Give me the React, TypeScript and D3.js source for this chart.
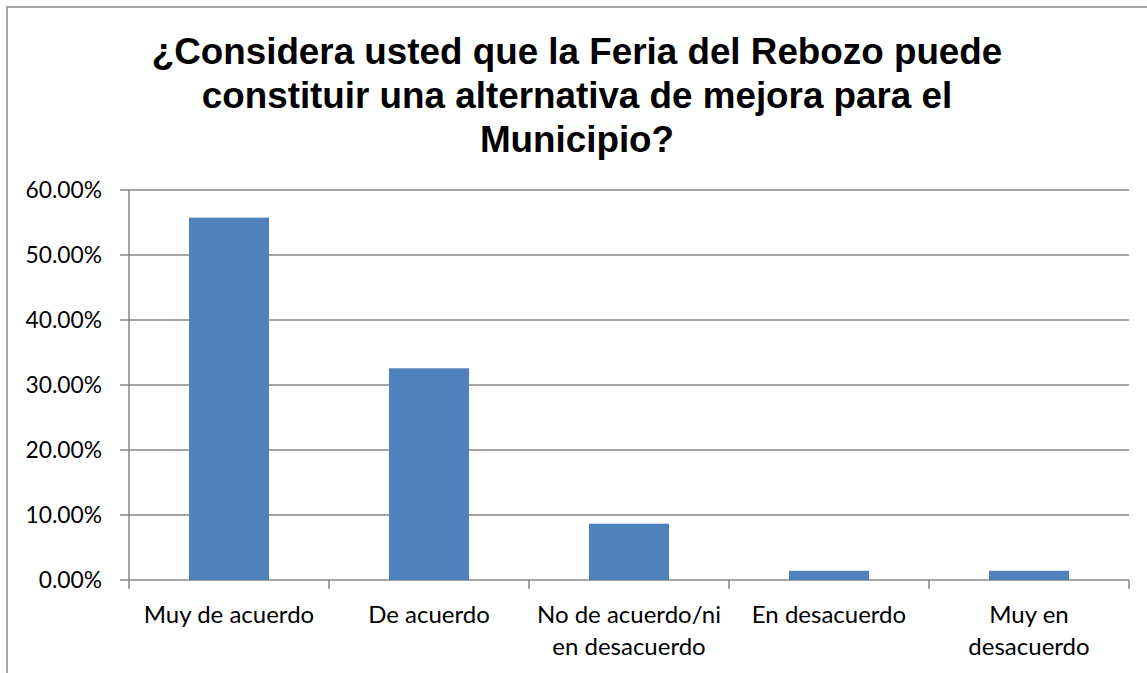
import React from 'react'
import * as d3 from 'd3'

const categories = [
  ['Muy de acuerdo'],
  ['De acuerdo'],
  ['No de acuerdo/ni', 'en desacuerdo'],
  ['En desacuerdo'],
  ['Muy en', 'desacuerdo'],
]
const values = [0.5575, 0.3257, 0.0866, 0.0142, 0.0142]
const yTicks = [0, 0.1, 0.2, 0.3, 0.4, 0.5, 0.6]
const titleLines = [
  '¿Considera usted que la Feria del Rebozo puede',
  'constituir una alternativa de mejora para el',
  'Municipio?',
]

const App: React.FC = () => {
  const width = 1147
  const height = 673
  const left = 129
  const right = 1129
  const top = 190
  const bottom = 580

  const xScale = d3.scaleBand<number>().domain(d3.range(categories.length)).range([left, right])
  const yScale = d3.scaleLinear().domain([0, 0.6]).range([bottom, top])
  const barWidth = xScale.bandwidth() * 0.4
  const fmt = d3.format('.2%')
  const grid = '#868686'

  return (
    <svg
      width={width}
      height={height}
      style={{ position: 'absolute', left: 0, top: 0, background: '#fff' }}
    >
      <rect x={7} y={7} width={width + 20} height={height + 20} fill="#fff" stroke="#898989" strokeWidth={1.5} />
      {titleLines.map((line, i) => (
        <text
          key={line}
          x={577}
          y={64 + i * 44}
          textAnchor="middle"
          fontFamily="'Liberation Sans', Arial, sans-serif"
          fontWeight="bold"
          fontSize={36.8}
          fill="#000"
        >
          {line}
        </text>
      ))}
      {yTicks.map((t) => (
        <g key={t}>
          <line x1={left - 9} x2={right} y1={yScale(t)} y2={yScale(t)} stroke={grid} strokeWidth={1.5} />
          <text
            x={102}
            y={yScale(t) + 8}
            textAnchor="end"
            fontFamily="Lato, 'Open Sans', sans-serif"
            fontSize={22.8}
            fill="#000"
          >
            {fmt(t)}
          </text>
        </g>
      ))}
      {values.map((v, i) => (
        <rect
          key={i}
          x={(xScale(i) as number) + (xScale.bandwidth() - barWidth) / 2}
          y={yScale(v)}
          width={barWidth}
          height={bottom - yScale(v)}
          fill="#4F81BD"
        />
      ))}
      <line x1={left} x2={left} y1={top} y2={bottom} stroke={grid} strokeWidth={1.5} />
      {d3.range(categories.length + 1).map((i) => {
        const x = left + i * xScale.step()
        return <line key={i} x1={x} x2={x} y1={bottom} y2={bottom + 9} stroke={grid} strokeWidth={1.5} />
      })}
      {categories.map((lines, i) => (
        <text
          key={i}
          textAnchor="middle"
          fontFamily="Lato, 'Open Sans', sans-serif"
          fontSize={24}
          fill="#000"
        >
          {lines.map((l, j) => (
            <tspan key={j} x={(xScale(i) as number) + xScale.bandwidth() / 2} y={623 + j * 32}>
              {l}
            </tspan>
          ))}
        </text>
      ))}
    </svg>
  )
}

export default App
